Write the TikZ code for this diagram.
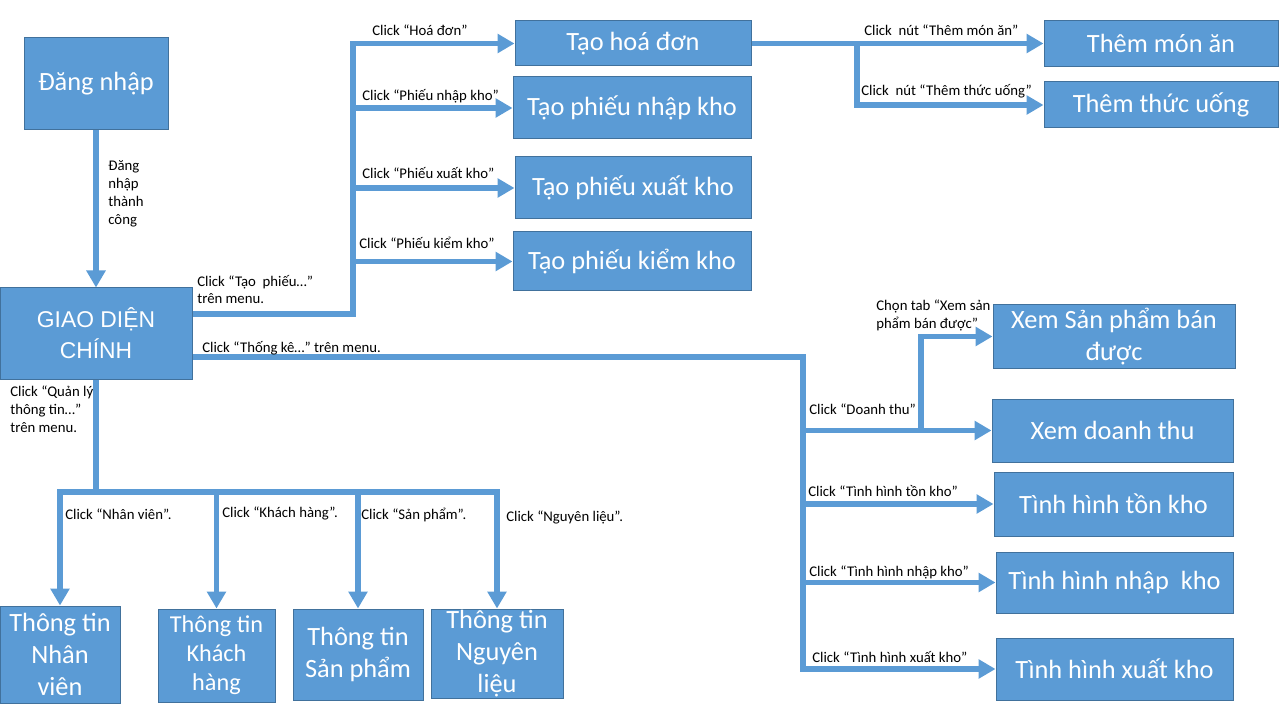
\documentclass[tikz,border=0pt]{standalone}
\usepackage{fontspec}
\setmainfont{Carlito}
\newfontfamily\arialfont{Liberation Sans}
\usetikzlibrary{arrows.meta}
\definecolor{boxblue}{HTML}{5B9BD5}
\definecolor{boxline}{HTML}{41719C}
\tikzset{
  box/.style={rectangle,draw=boxline,line width=0.2mm,fill=boxblue,text=white,
    align=center,inner sep=0pt,font=\fontsize{15}{18}\selectfont},
  sz/.style 2 args={minimum width=#1*0.2mm,minimum height=#2*0.2mm},
  lbl/.style={anchor=west,align=left,inner sep=0pt,font=\fontsize{8.4}{10.2}\selectfont},
  wire/.style={draw=boxblue,line width=1.1mm}
}

\begin{document}
\begin{tikzpicture}[x=0.2mm,y=-0.2mm,->,>={Triangle[length=3.4mm,width=3.7mm]}]
    \useasboundingbox (0,0) rectangle (1280,720);
    % boxes
    \node[box,sz={144}{92}] (login) at (96,84) {Đăng nhập};
    \node[box,sz={192}{91},font=\arialfont\fontsize{13}{17.5}\selectfont] (main) at (96,333.5) {GIAO DIỆN\\CHÍNH};
    \node[box,sz={236}{45}] (hd) at (633,43.5) {Tạo hoá đơn};
    \node[box,sz={238}{62}] (pnk) at (632,108) {Tạo phiếu nhập kho};
    \node[box,sz={236}{62}] (pxk) at (633,188) {Tạo phiếu xuất kho};
    \node[box,sz={238}{59}] (pkk) at (632,261.5) {Tạo phiếu kiểm kho};
    \node[box,sz={234}{46}] (mon) at (1161,43.5) {Thêm món ăn};
    \node[box,sz={234}{46}] (uong) at (1161,105) {Thêm thức uống};
    \node[box,sz={242}{63}] (xsp) at (1114,336.5) {Xem Sản phẩm bán\\được};
    \node[box,sz={241}{63}] (xdt) at (1112.5,430.5) {Xem doanh thu};
    \node[box,sz={239}{64}] (ton) at (1113.5,504) {Tình hình tồn kho};
    \node[box,sz={237}{61}] (nhap) at (1114.5,582.5) {Tình hình nhập\ \ kho};
    \node[box,sz={237}{62}] (xuat) at (1114.5,669) {Tình hình xuất kho};
    \node[box,sz={120}{97}] (nv) at (60,654.5) {Thông tin\\Nhân\\viên};
    \node[box,sz={117}{93},font=\fontsize{13.8}{16.5}\selectfont] (kh) at (216.5,655.5) {Thông tin\\Khách\\hàng};
    \node[box,sz={130}{91}] (sp) at (358,654.5) {Thông tin\\Sản phẩm};
    \node[box,sz={132}{89}] (nl) at (497,653.5) {Thông tin\\Nguyên\\liệu};

    % joints
    \coordinate (tp) at (353,314);
    \coordinate (ht) at (857,43);
    \coordinate (tk) at (803,357);
    \coordinate (dt) at (921,430);
    \coordinate (ql) at (96,492);

    % connectors
    \draw[wire] (login) -- (main);
    \draw[wire] (main.east |- tp) -| (tp |- hd.west) -- (hd.west);
    \foreach \n in {pnk,pxk,pkk}
      \draw[wire] (tp |- \n.west) -- (\n.west);
    \draw[wire] (hd.east) -- (mon.west);
    \draw[wire] (hd.east -| ht) |- (uong.west);
    \draw[wire] (main.east |- tk) -| (tk |- xuat.west) -- (xuat.west);
    \foreach \n in {xdt,ton,nhap}
      \draw[wire] (tk |- \n.west) -- (\n.west);
    \draw[wire] (xdt.west -| dt) |- (xsp.west);
    \draw[wire] (main.south) -- (ql) -| (nv.north);
    \draw[wire] (ql) -| (nl.north);
    \foreach \n in {kh,sp}
      \draw[wire] (\n.north |- ql) -- (\n.north);

    % labels
    \node[lbl] (l1) at (108,194) {Đăng\\nhập\\thành\\công};
    \node[lbl] (l2) at (197,289.5) {Click “Tạo\ \ phiếu…”\\trên menu.};
    \node[lbl] (l3) at (202,348) {Click “Thống kê…” trên menu.};
    \node[lbl] (l4) at (10,409.5) {Click “Quản lý\\thông tin…”\\trên menu.};
    \node[lbl] (l5) at (372,30) {Click “Hoá đơn”};
    \node[lbl] (l6) at (362,96) {Click “Phiếu nhập kho”};
    \node[lbl] (l7) at (362,173) {Click “Phiếu xuất kho”};
    \node[lbl] (l8) at (359,243) {Click “Phiếu kiểm kho”};
    \node[lbl] (l9) at (864,30) {Click\ \ nút “Thêm món ăn”};
    \node[lbl] (l10) at (861,91) {Click\ \ nút “Thêm thức uống”};
    \node[lbl] (l11) at (876,315.5) {Chọn tab “Xem sản\\phẩm bán được”};
    \node[lbl] (l12) at (809,409) {Click “Doanh thu”};
    \node[lbl] (l13) at (808,491) {Click “Tình hình tồn kho”};
    \node[lbl] (l14) at (809,572) {Click “Tình hình nhập kho”};
    \node[lbl] (l15) at (812,657) {Click “Tình hình xuất kho”};
    \node[lbl] (l16) at (65,514) {Click “Nhân viên”.};
    \node[lbl] (l17) at (222,513) {Click “Khách hàng”.};
    \node[lbl] (l18) at (361,515) {Click “Sản phẩm”.};
    \node[lbl] (l19) at (506,517) {Click “Nguyên liệu”.};
\end{tikzpicture}
\end{document}
